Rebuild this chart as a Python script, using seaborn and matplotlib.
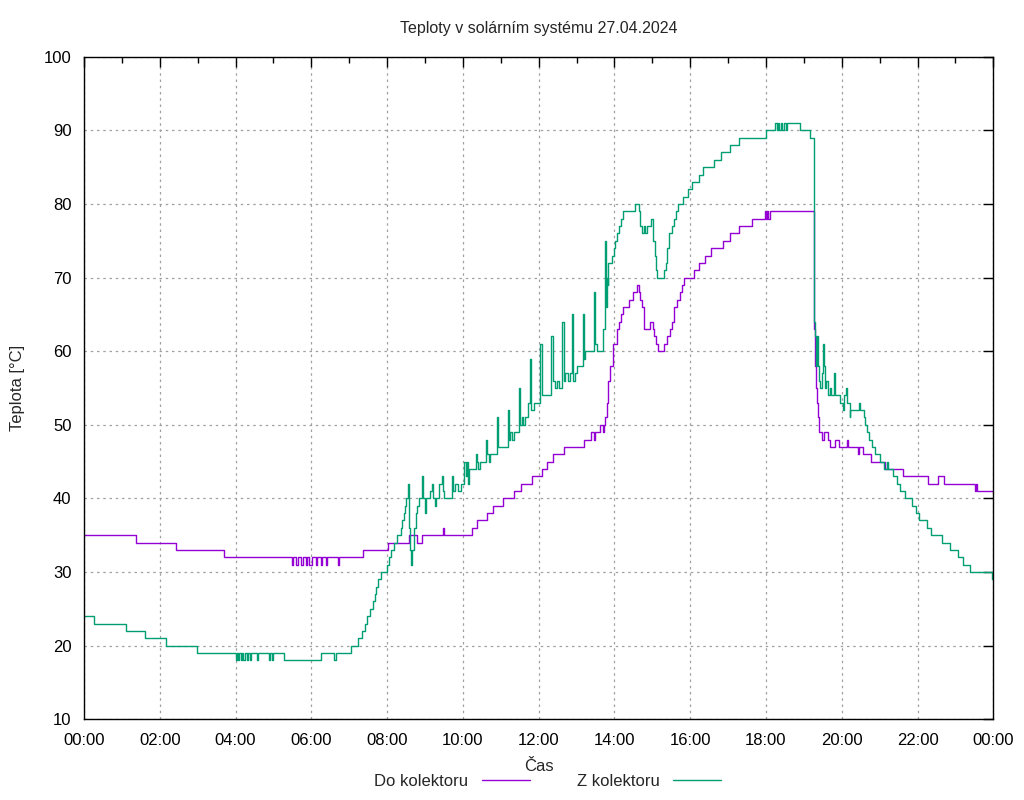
import numpy as np
import pandas as pd
import seaborn as sns
import matplotlib.pyplot as plt
from matplotlib.ticker import MultipleLocator, FuncFormatter

sns.set_theme(style="white")
plt.rcParams["font.family"] = ["Liberation Sans", "DejaVu Sans"]

# Do kolektoru (hours, deg C) - change points
do_t = [0, 1.38, 2.44, 3.70, 5.50, 5.53, 5.60, 5.66, 5.74, 5.79, 5.85, 5.88, 5.94, 6.02,
        6.12, 6.15, 6.26, 6.29, 6.40, 6.42, 6.71, 6.74, 7.37, 8.03, 8.59, 8.78, 8.93,
        9.48, 9.51, 10.25, 10.37, 10.63, 10.79, 11.07, 11.36, 11.54, 11.83, 12.09, 12.22,
        12.39, 12.68, 13.21, 13.38, 13.45, 13.48, 13.62, 13.70, 13.73, 13.76, 13.80,
        13.84, 13.89, 13.95, 14.06, 14.12, 14.17, 14.24, 14.38, 14.48, 14.59, 14.64,
        14.68, 14.72, 14.77, 14.94, 15.01, 15.05, 15.10, 15.14, 15.30, 15.39, 15.47,
        15.51, 15.56, 15.65, 15.72, 15.78, 15.84, 16.09, 16.22, 16.40, 16.55, 16.86,
        17.06, 17.28, 17.63, 17.98, 18.00, 18.03, 18.06, 18.10, 19.26, 19.27, 19.29,
        19.32, 19.34, 19.37, 19.41, 19.48, 19.52, 19.63, 19.70, 19.81, 19.92, 20.14,
        20.16, 20.44, 20.46, 20.55, 20.77, 21.15, 21.61, 22.29, 22.53, 22.69, 23.52,
        23.55, 23.58, 24.0]
do_v = [35, 34, 33, 32, 31, 32, 31, 32, 31, 32, 31, 32, 31, 32,
        31, 32, 31, 32, 31, 32, 31, 32, 33, 34, 35, 34, 35,
        36, 35, 36, 37, 38, 39, 40, 41, 42, 43, 44, 45,
        46, 47, 48, 49, 48, 49, 50, 49, 50, 51, 53,
        56, 58, 61, 63, 64, 65, 66, 67, 68, 69, 68,
        67, 66, 63, 64, 63, 62, 61, 60, 61, 62, 63,
        64, 66, 67, 68, 69, 70, 71, 72, 73, 74, 75,
        76, 77, 78, 79, 78, 79, 78, 79, 66, 63, 58,
        55, 53, 51, 49, 48, 49, 48, 47, 48, 47, 48,
        47, 46, 47, 46, 45, 44, 43, 42, 43, 42, 41,
        42, 41, 41]

# Z kolektoru (hours, deg C) - change points
z_t = [0, 0.26, 1.12, 1.60, 2.17, 2.99, 4.00, 4.03, 4.07, 4.10, 4.14, 4.17, 4.20, 4.24,
       4.29, 4.32, 4.38, 4.40, 4.57, 4.59, 4.88, 4.92, 4.96, 4.98, 5.28, 6.25, 6.61,
       6.64, 7.04, 7.22, 7.35, 7.42, 7.48, 7.55, 7.62, 7.67, 7.72, 7.77, 7.83, 8.01,
       8.05, 8.10, 8.18, 8.26, 8.36, 8.40, 8.44, 8.46, 8.49, 8.55, 8.59, 8.61, 8.63,
       8.66, 8.72, 8.77, 8.80, 8.84, 8.92, 8.95, 8.99, 9.03, 9.14, 9.18, 9.22, 9.27,
       9.30, 9.36, 9.44, 9.48, 9.51, 9.71, 9.75, 9.80, 9.88, 9.95, 10.04, 10.07,
       10.10, 10.13, 10.15, 10.17, 10.34, 10.37, 10.41, 10.45, 10.61, 10.64, 10.68,
       10.72, 10.91, 10.94, 11.18, 11.21, 11.25, 11.30, 11.34, 11.48, 11.52, 11.56,
       11.60, 11.64, 11.73, 11.76, 11.79, 11.88, 12.04, 12.08, 12.33, 12.37, 12.42,
       12.48, 12.55, 12.61, 12.66, 12.70, 12.78, 12.83, 12.89, 12.92, 12.96, 13.01,
       13.18, 13.21, 13.23, 13.46, 13.50, 13.55, 13.71, 13.75, 13.77, 13.80, 13.83,
       13.84, 13.93, 13.98, 14.02, 14.06, 14.12, 14.18, 14.24, 14.55, 14.64, 14.68,
       14.72, 14.77, 14.81, 14.85, 14.96, 15.01, 15.03, 15.06, 15.10, 15.12, 15.30,
       15.37, 15.40, 15.45, 15.52, 15.56, 15.63, 15.69, 15.81, 15.93, 16.06, 16.22,
       16.35, 16.64, 16.81, 17.06, 17.29, 18.01, 18.24, 18.28, 18.31, 18.35, 18.39,
       18.43, 18.47, 18.52, 18.56, 18.62, 18.89, 19.17, 19.26, 19.27, 19.28,
       19.30, 19.33, 19.34, 19.37, 19.40, 19.43, 19.48, 19.50, 19.52, 19.55, 19.59,
       19.64, 19.68, 19.72, 19.80, 19.83, 19.96, 20.03, 20.07, 20.12, 20.15, 20.21,
       20.23, 20.46, 20.49, 20.58, 20.62, 20.68, 20.73, 20.80, 20.88, 21.00, 21.11,
       21.19, 21.22, 21.36, 21.47, 21.53, 21.68, 21.85, 21.97, 22.03, 22.25, 22.36,
       22.65, 22.87, 23.06, 23.20, 23.39, 23.96, 24.0]
z_v = [24, 23, 22, 21, 20, 19, 18, 19, 18, 19, 18, 19, 18, 19,
       18, 19, 18, 19, 18, 19, 18, 19, 18, 19, 18, 19, 18,
       19, 20, 21, 22, 23, 24, 25, 26, 27, 28, 29, 30, 31,
       32, 33, 34, 35, 36, 37, 38, 39, 40, 42, 36, 33, 31,
       33, 36, 38, 39, 40, 43, 40, 38, 40, 41, 42, 40, 39,
       40, 42, 43, 41, 40, 43, 41, 42, 41, 42, 45, 43,
       45, 42, 43, 44, 46, 45, 44, 45, 48, 46, 45,
       46, 51, 47, 52, 48, 49, 48, 49, 55, 50, 51,
       50, 51, 53, 59, 52, 53, 61, 54, 62, 56, 55,
       56, 55, 64, 56, 57, 56, 57, 65, 56, 57, 58,
       65, 59, 60, 68, 61, 60, 63, 75, 66, 70, 69,
       72, 73, 74, 75, 76, 77, 78, 79, 80, 79, 77,
       76, 77, 76, 77, 78, 77, 75, 73, 71, 70, 71,
       72, 74, 76, 77, 78, 79, 80, 81, 82, 83, 84,
       85, 86, 87, 88, 89, 90, 91, 90, 91, 90, 91,
       90, 91, 90, 91, 91, 90, 89, 64, 77, 64,
       62, 58, 62, 58, 56, 55, 57, 61, 58, 55, 56,
       54, 55, 54, 57, 54, 53, 52, 54, 55, 53, 51,
       52, 53, 52, 51, 50, 49, 48, 47, 46, 45, 44,
       45, 44, 43, 42, 41, 40, 39, 38, 37, 36, 35,
       34, 33, 32, 31, 30, 29, 29]

title = "Teploty v solárním systému 27.04.2024"
labels = ["Do kolektoru", "Z kolektoru"]
colors = ["#9400D3", "#009E73"]

df_do = pd.DataFrame({"t": do_t, "v": do_v})
df_z = pd.DataFrame({"t": z_t, "v": z_v})

fig, ax = plt.subplots(figsize=(10.24, 8), dpi=100)
fig.subplots_adjust(left=0.082, right=0.970, top=0.929, bottom=0.101)

sns.lineplot(data=df_do, x="t", y="v", ax=ax, color=colors[0], lw=1.0,
             drawstyle="steps-post", estimator=None, label=labels[0])
sns.lineplot(data=df_z, x="t", y="v", ax=ax, color=colors[1], lw=1.0,
             drawstyle="steps-post", estimator=None, label=labels[1])

ax.set_xlim(0, 24)
ax.set_ylim(10, 100)
ax.xaxis.set_major_locator(MultipleLocator(2))
ax.xaxis.set_minor_locator(MultipleLocator(1))
ax.yaxis.set_major_locator(MultipleLocator(10))
ax.xaxis.set_major_formatter(FuncFormatter(lambda x, p: f"{int(x) % 24:02d}:00"))

ax.grid(True, which="major", color="#a0a0a0", linestyle=(0, (2, 3)), linewidth=0.9)
for s in ax.spines.values():
    s.set_color("black")
    s.set_linewidth(1.0)
ax.tick_params(which="both", direction="in", top=True, right=True,
               labelsize=12, colors="black")
ax.tick_params(axis="x", pad=10)
ax.tick_params(axis="y", pad=9)
ax.tick_params(which="major", length=7, width=1)
ax.tick_params(which="minor", length=4, width=1)

ax.set_title(title, fontsize=11.5, pad=17)
ax.set_xlabel("Čas", fontsize=12, labelpad=8)
ax.set_ylabel("Teplota [°C]", fontsize=12)
ax.yaxis.set_label_coords(-0.065, 0.5)

handles, labs = ax.get_legend_handles_labels()
ax.legend().remove()
fig.legend(handles, labs, loc="center", bbox_to_anchor=(0.535, 0.023), ncol=2,
           frameon=False, fontsize=12, markerfirst=False, handlelength=2.9,
           columnspacing=2.8, handletextpad=0.8)

fig.savefig("out.png", dpi=100)
